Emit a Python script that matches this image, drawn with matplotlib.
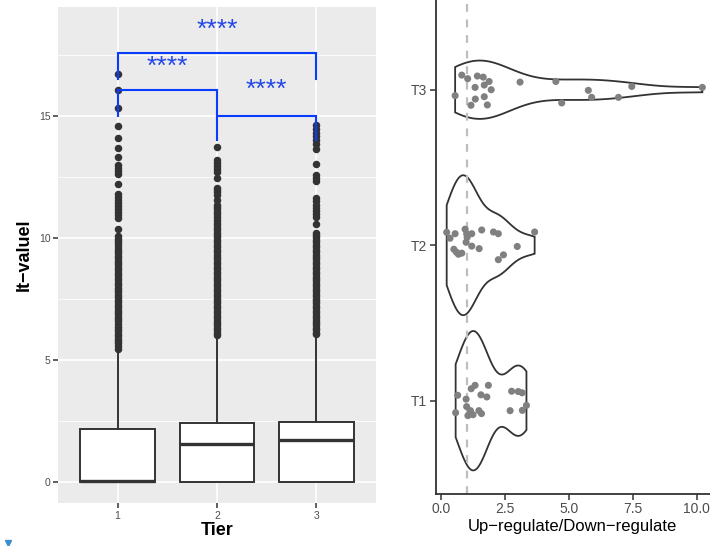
import numpy as np
import matplotlib
matplotlib.use("Agg")
import matplotlib.pyplot as plt
from matplotlib.lines import Line2D

plt.rcParams['font.family'] = ['Liberation Sans', 'DejaVu Sans']

# ---------------- Left panel data (box summaries) ----------------
tiers = [1, 2, 3]
tier_labels = ["1", "2", "3"]
box_q1 = [0.0, 0.0, 0.0]
box_med = [0.03, 1.54, 1.70]
box_q3 = [2.16, 2.38, 2.43]
box_whislo = [0.0, 0.0, 0.0]
box_whishi = [5.35, 5.95, 6.00]

outliers_t1 = [16.71, 16.05, 15.33, 14.58, 14.08, 13.69, 13.30, 12.97, 12.85, 12.72,
               12.62, 12.18, 11.80, 11.68, 11.55, 11.42, 11.30, 11.18, 11.05, 10.93,
               10.80, 10.37, 10.05, 9.95, 9.85, 9.76, 9.66, 9.55, 9.46, 9.35, 9.25,
               9.16, 9.05, 8.95, 8.86, 8.75, 8.66, 8.55, 8.45, 8.36, 8.25, 8.15, 8.06,
               7.95, 7.85, 7.76, 7.65, 7.55, 7.46, 7.35, 7.25, 7.16, 7.05, 6.95, 6.86,
               6.75, 6.65, 6.56, 6.45, 6.35, 6.26, 6.15, 6.05, 5.96, 5.85, 5.75, 5.66,
               5.55, 5.45]
outliers_t2 = [13.70, 13.18, 13.06, 12.92, 12.80, 12.70, 12.46, 12.05, 11.95, 11.85,
               11.75, 11.55, 11.35, 11.25, 11.15, 11.05, 10.95, 10.85, 10.72, 10.60,
               10.50, 10.40, 10.31, 10.20, 10.10, 10.01, 9.90, 9.80, 9.71, 9.60, 9.50,
               9.41, 9.30, 9.20, 9.11, 9.00, 8.90, 8.81, 8.70, 8.60, 8.51, 8.40, 8.30,
               8.21, 8.10, 8.00, 7.91, 7.80, 7.70, 7.61, 7.50, 7.40, 7.31, 7.20, 7.10,
               7.01, 6.90, 6.80, 6.71, 6.60, 6.50, 6.41, 6.30, 6.20, 6.10, 6.02]
outliers_t3 = [14.62, 14.45, 14.30, 14.15, 14.00, 13.84, 13.63, 13.00, 12.57, 12.45,
               12.32, 11.62, 11.48, 11.35, 11.22, 11.10, 10.98, 10.85, 10.56, 10.20,
               10.10, 10.01, 9.90, 9.80, 9.71, 9.60, 9.50, 9.41, 9.30, 9.20, 9.11, 9.00,
               8.90, 8.81, 8.70, 8.60, 8.51, 8.40, 8.30, 8.21, 8.10, 8.00, 7.91, 7.80,
               7.70, 7.61, 7.50, 7.40, 7.31, 7.20, 7.10, 7.01, 6.90, 6.80, 6.71, 6.60,
               6.50, 6.41, 6.30, 6.20, 6.10, 6.05]

# significance brackets
sig_x1 = [1, 1, 2]
sig_x2 = [3, 2, 3]
sig_y = [17.56, 16.05, 15.00]
sig_tip = [1.06, 1.05, 1.00]
sig_label = ["****", "****", "****"]
sig_label_x = [2.0, 1.5, 2.5]
sig_label_y = [18.5, 17.0, 16.05]

# ---------------- Right panel data (ratios with jitter) ----------------
violin_labels = ["T1", "T2", "T3"]
ratio_t1 = [0.57, 0.65, 0.98, 1.00, 1.05, 1.15, 1.18, 1.33, 1.25, 1.48, 1.58, 1.56,
            1.79, 1.85, 2.70, 2.76, 3.02, 3.17, 3.18, 3.34]
jit_t1 = [-0.077, 0.035, 0.010, -0.038, -0.096, -0.064, 0.077, 0.099, -0.090, -0.064,
          -0.083, 0.038, 0.024, 0.099, -0.064, 0.061, 0.059, 0.051, -0.062, -0.030]
ratio_t2 = [0.22, 0.35, 0.55, 0.50, 0.60, 0.68, 0.81, 0.94, 1.00, 0.98, 1.02, 1.20,
            1.20, 1.49, 1.59, 2.05, 2.24, 2.44, 2.24, 2.98, 3.66]
jit_t2 = [0.083, 0.045, 0.074, -0.026, -0.045, -0.058, -0.051, 0.103, 0.074, 0.019,
          0.051, 0.074, -0.006, -0.022, 0.098, 0.085, 0.074, -0.062, -0.093, -0.008, 0.085]
ratio_t3 = [0.55, 0.81, 1.04, 1.33, 1.42, 1.65, 1.88, 1.69, 1.96, 1.34, 1.17, 1.69,
            1.81, 3.09, 4.49, 4.72, 5.76, 5.89, 6.94, 7.46, 10.22]
jit_t3 = [-0.038, 0.094, 0.071, 0.015, 0.088, 0.081, 0.053, 0.030, 0.0, -0.060, -0.100,
          -0.045, -0.098, 0.049, 0.053, -0.085, -0.004, -0.049, -0.049, 0.021, 0.015]
ref_ratio = 1.0

# ---------------- Figure ----------------
W, H = 710, 546
fig = plt.figure(figsize=(W / 100, H / 100), dpi=100)

# ---- left panel ----
axL = fig.add_axes([58 / W, 1 - 503 / H, (376 - 58) / W, (503 - 7) / H])
axL.set_facecolor("#EBEBEB")
for s in axL.spines.values():
    s.set_visible(False)
axL.set_xlim(0.4, 3.6)
axL.set_ylim(-0.88, 19.45)
for y in [2.5, 7.5, 12.5, 17.5]:
    axL.axhline(y, color="white", lw=0.6, zorder=0)
for y in [0, 5, 10, 15]:
    axL.axhline(y, color="white", lw=1.2, zorder=0)
for x in tiers:
    axL.axvline(x, color="white", lw=1.2, zorder=0)

stats = []
fl = [outliers_t1, outliers_t2, outliers_t3]
for i in range(3):
    stats.append(dict(q1=box_q1[i], med=box_med[i], q3=box_q3[i],
                      whislo=box_whislo[i], whishi=box_whishi[i], fliers=fl[i]))
axL.bxp(stats, positions=tiers, widths=0.75, patch_artist=True, showcaps=False,
        boxprops=dict(facecolor="white", edgecolor="#333333", lw=1.4),
        medianprops=dict(color="#333333", lw=2.4),
        whiskerprops=dict(color="#333333", lw=1.4),
        flierprops=dict(marker="o", markerfacecolor="#333333", markeredgecolor="#333333",
                        markersize=4.4, linestyle="none"),
        manage_ticks=False, zorder=2)

blue = "#0A3CFF"
for x1, x2, y, t, lab, lx, ly in zip(sig_x1, sig_x2, sig_y, sig_tip, sig_label, sig_label_x, sig_label_y):
    axL.plot([x1, x1, x2, x2], [y - t, y, y, y - t], color=blue, lw=1.5, zorder=4,
             solid_joinstyle="miter")
    axL.text(lx, ly, lab, color="#2448E8", fontsize=19, ha="center", va="center", zorder=5)

axL.set_xticks(tiers)
axL.set_xticklabels(tier_labels)
axL.set_yticks([0, 5, 10, 15])
axL.set_yticklabels(["0", "5", "10", "15"])
axL.tick_params(axis="both", colors="#333333", labelcolor="#4D4D4D", labelsize=7.5,
                length=3.5, width=1.1, pad=2)
axL.set_xlabel("Tier", fontsize=13, fontweight="bold", labelpad=1)
axL.set_ylabel("lt\u2212valuel", fontsize=13, fontweight="bold", labelpad=4)

# ---- right panel ----
axR = fig.add_axes([435.7 / W, 1 - 494 / H, (W - 435.7) / W, 494 / H])
axR.set_xlim(-0.21, 10.52)
axR.set_ylim(0.4, 3.577)
axR.spines["top"].set_visible(False)
axR.spines["right"].set_visible(False)
for s in ["left", "bottom"]:
    axR.spines[s].set_color("#333333")
    axR.spines[s].set_linewidth(1.3)


def nrd0(x):
    x = np.asarray(x)
    sd = np.std(x, ddof=1)
    iqr = np.subtract(*np.percentile(x, [75, 25]))
    lo = min(sd, iqr / 1.34)
    return 0.9 * lo * len(x) ** (-0.2)


def kde(x, grid):
    x = np.asarray(x)
    bw = nrd0(x)
    d = np.exp(-0.5 * ((grid[:, None] - x[None, :]) / bw) ** 2).sum(axis=1)
    return d / (len(x) * bw * np.sqrt(2 * np.pi))


ratios = [ratio_t1, ratio_t2, ratio_t3]
jits = [jit_t1, jit_t2, jit_t3]
grids, dens = [], []
for r in ratios:
    g = np.linspace(min(r), max(r), 512)
    grids.append(g)
    dens.append(kde(r, g))
gmax = max(d.max() for d in dens)
for i, (g, d) in enumerate(zip(grids, dens)):
    pos = i + 1
    hw = d / gmax * 0.45
    xs = np.concatenate([g, g[::-1], g[:1]])
    ys = np.concatenate([pos + hw, (pos - hw)[::-1], [pos + hw[0]]])
    axR.fill(xs, ys, facecolor="white", edgecolor="#333333", lw=1.3, zorder=1)

axR.axvline(ref_ratio, color="#BEBEBE", lw=1.6, ls=(0, (3.5, 3.5)), zorder=2)

for i, (r, j) in enumerate(zip(ratios, jits)):
    axR.scatter(r, np.array(j) + i + 1, s=26, color="#808080", edgecolors="none", zorder=3)

axR.set_yticks([1, 2, 3])
axR.set_yticklabels(violin_labels)
axR.set_xticks([0, 2.5, 5, 7.5, 10])
axR.set_xticklabels(["0.0", "2.5", "5.0", "7.5", "10.0"])
axR.tick_params(axis="both", colors="#333333", labelcolor="#4D4D4D", labelsize=10,
                length=4, width=1.1, pad=2)
axR.set_xlabel("Up\u2212regulate/Down\u2212regulate", fontsize=12, labelpad=2)

# small blue marker at bottom-left corner
fig.add_artist(Line2D([8 / W], [1 - 543 / H], marker="v", markersize=5, color="#3A8FD0",
                      markeredgecolor="#3A8FD0", transform=fig.transFigure))

fig.savefig("out.png", dpi=100)
